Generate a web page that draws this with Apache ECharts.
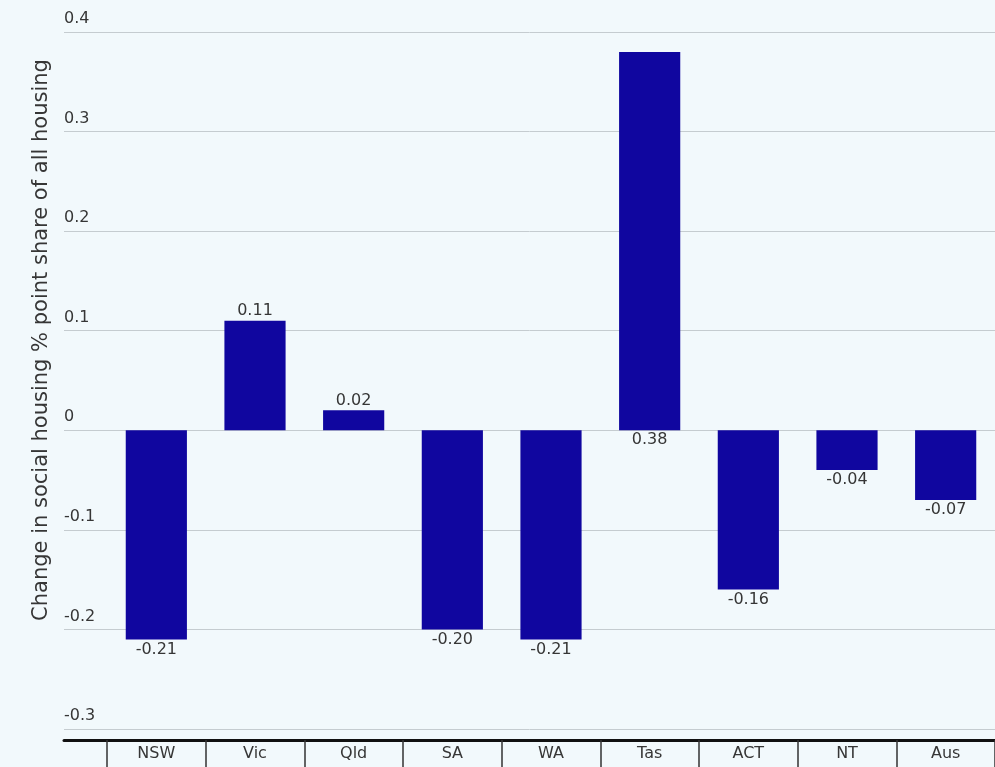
<!DOCTYPE html>
<html>
<head>
<meta charset="utf-8">
<style>
  html, body { margin: 0; padding: 0; background: #f2f9fc; }
  #chart { width: 995px; height: 767px; }
</style>
<script src="https://cdn.jsdelivr.net/npm/echarts@6/dist/echarts.min.js"></script>
</head>
<body>
<div id="chart"></div>
<script>
// states and territories, change in social housing share (% points)
const categories = ['NSW', 'Vic', 'Qld', 'SA', 'WA', 'Tas', 'ACT', 'NT', 'Aus'];
const values = [-0.21, 0.11, 0.02, -0.20, -0.21, 0.38, -0.16, -0.04, -0.07];
// Tas label sits under the zero line in the original
const labelBelow = ['Tas'];
const yTicks = { min: -0.3, max: 0.4, interval: 0.1 };

const barColor = '#10069f';
const textColor = '#363636';
const fontFamily = 'DejaVu Sans, sans-serif';

const chart = echarts.init(document.getElementById('chart'));

const barData = values.map((v, i) => {
  const below = v < 0 || labelBelow.includes(categories[i]);
  return {
    value: v,
    label: { position: below ? 'bottom' : 'top', distance: 2 }
  };
});

chart.setOption({
  backgroundColor: '#f2f9fc',
  animation: false,
  grid: [
    { left: 64, right: 0, top: 32, bottom: 38 },
    { left: 107, right: -3, top: 32, bottom: 38 }
  ],
  xAxis: [
    {
      gridIndex: 0, type: 'value', min: 0, max: 1, offset: 11,
      axisLine: { show: true, onZero: false, lineStyle: { color: '#111', width: 3 } },
      axisTick: { show: false }, axisLabel: { show: false }, splitLine: { show: false }
    },
    {
      gridIndex: 1, type: 'category', data: categories, offset: 11,
      axisLine: { show: false, onZero: false },
      axisTick: { show: true, alignWithLabel: false, length: 30, lineStyle: { color: '#333', width: 1.5 } },
      axisLabel: { color: textColor, fontFamily, fontSize: 16, margin: 6 }
    }
  ],
  yAxis: [
    {
      gridIndex: 0, type: 'value', min: yTicks.min, max: yTicks.max, interval: yTicks.interval,
      axisLine: { show: false }, axisTick: { show: false },
      axisLabel: {
        inside: true, verticalAlign: 'bottom', margin: 0, padding: [0, 0, 5, 0],
        color: textColor, fontFamily, fontSize: 16,
        formatter: v => (Math.round(v * 10) / 10).toString()
      },
      splitLine: { lineStyle: { color: '#c5ccd0', width: 1 } }
    },
    {
      gridIndex: 1, type: 'value', min: yTicks.min, max: yTicks.max, interval: yTicks.interval,
      show: false, splitLine: { show: false }
    }
  ],
  graphic: [{
    type: 'text',
    rotation: Math.PI / 2,
    x: 42, y: 340,
    style: {
      text: 'Change in social housing % point share of all housing',
      fill: textColor, font: '21px ' + fontFamily,
      align: 'center', verticalAlign: 'middle'
    }
  }],
  series: [{
    type: 'bar',
    xAxisIndex: 1, yAxisIndex: 1,
    data: barData,
    barWidth: '62%',
    itemStyle: { color: barColor },
    label: {
      show: true, color: textColor, fontFamily, fontSize: 16,
      formatter: p => p.value.toFixed(2)
    }
  }]
});
</script>
</body>
</html>
